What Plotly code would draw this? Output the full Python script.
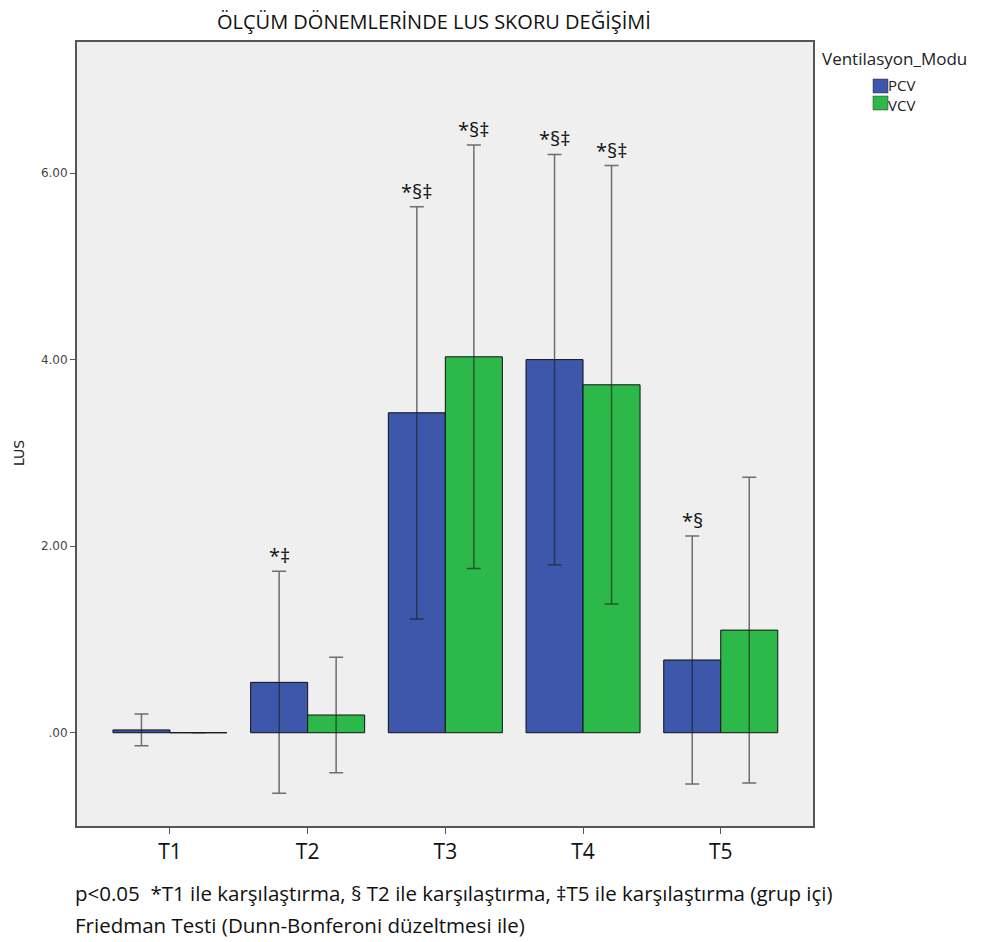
import plotly.graph_objects as go

categories = ["T1", "T2", "T3", "T4", "T5"]
series_names = ["PCV", "VCV"]
pcv_mean = [0.03, 0.54, 3.43, 4.00, 0.78]
pcv_err = [0.17, 1.19, 2.21, 2.20, 1.33]
vcv_mean = [0.00, 0.19, 4.03, 3.73, 1.10]
vcv_err = [0.00, 0.62, 2.27, 2.35, 1.64]
pcv_marks = ["", "*‡", "*§‡", "*§‡", "*§"]
vcv_marks = ["", "", "*§‡", "*§‡", ""]
y_ticks = [0, 2, 4, 6]
y_tick_labels = [".00", "2.00", "4.00", "6.00"]

title_text = "ÖLÇÜM DÖNEMLERİNDE LUS SKORU DEĞİŞİMİ"
legend_title = "Ventilasyon_Modu"
y_title = "LUS"
note1 = "p<0.05  *T1 ile karşılaştırma, § T2 ile karşılaştırma, ‡T5 ile karşılaştırma (grup içi)"
note2 = "Friedman Testi (Dunn-Bonferoni düzeltmesi ile)"

colors = {"PCV": "#3d57ab", "VCV": "#2db84a"}

OFF = 8  # page body margin
W, H = 983 - OFF, 942 - OFF
L, T = 77 - OFF, 42 - OFF
R = W - (813 - OFF)
B = H - (826 - OFF)
pw, ph = W - L - R, H - T - B

def px_x(x):
    return (x - OFF - L) / pw

def px_y(y):
    return (H - B - (y - OFF)) / ph

fig = go.Figure()
for name, means, errs in [("PCV", pcv_mean, pcv_err), ("VCV", vcv_mean, vcv_err)]:
    fig.add_trace(go.Bar(
        name=name, x=categories, y=means,
        marker=dict(color=colors[name], line=dict(color="#111111", width=1)),
        error_y=dict(type="data", array=errs, visible=True, color="rgba(30,30,30,0.62)",
                     thickness=1.5, width=7),
        showlegend=False,
    ))

# significance marks above error bars
x_span = 4.67 + 0.675
bar_half = 0.828 * (pw / x_span) / 4
for marks, means, errs, sh in [(pcv_marks, pcv_mean, pcv_err, -1), (vcv_marks, vcv_mean, vcv_err, 1)]:
    for c, m, mu, e in zip(categories, marks, means, errs):
        if m:
            fig.add_annotation(x=c, y=mu + e, xref="x", yref="y", text=m, showarrow=False,
                               xshift=sh * bar_half, yshift=0, yanchor="bottom",
                               font=dict(family="Open Sans", size=20, color="#111111"))

# title
fig.add_annotation(x=px_x(434), y=px_y(21), xref="paper", yref="paper", text=title_text,
                   showarrow=False, xanchor="center", yanchor="middle",
                   font=dict(family="Open Sans", size=20, color="#111111"))
# y title
fig.add_annotation(x=px_x(19), y=px_y(453), xref="paper", yref="paper", text=y_title,
                   showarrow=False, textangle=-90, xanchor="center", yanchor="middle",
                   font=dict(family="DejaVu Sans", size=14, color="#222222"))
# legend (manual)
fig.add_annotation(x=px_x(820), y=px_y(59), xref="paper", yref="paper", text=legend_title,
                   showarrow=False, xanchor="left", yanchor="middle",
                   font=dict(family="Open Sans", size=17, color="#222222"))
for i, name in enumerate(series_names):
    y0 = 79 + i * 17
    fig.add_shape(type="rect", xref="paper", yref="paper",
                  x0=px_x(873), x1=px_x(888), y0=px_y(y0), y1=px_y(y0 + 14),
                  fillcolor=colors[name], line=dict(color="#333333", width=0.5))
fig.add_annotation(x=px_x(887), y=px_y(95), xref="paper", yref="paper",
                   text="<br>".join(series_names), align="left",
                   showarrow=False, xanchor="left", yanchor="middle", borderpad=0,
                   font=dict(family="Open Sans", size=15, color="#222222"))
# notes
fig.add_annotation(x=px_x(73), y=px_y(893), xref="paper", yref="paper", text=note1,
                   showarrow=False, xanchor="left", yanchor="middle",
                   font=dict(family="Open Sans", size=20.5, color="#111111"))
fig.add_annotation(x=px_x(73), y=px_y(925), xref="paper", yref="paper", text=note2,
                   showarrow=False, xanchor="left", yanchor="middle",
                   font=dict(family="Open Sans", size=20.5, color="#111111"))

fig.update_layout(
    width=W, height=H,
    margin=dict(l=L, r=R, t=T, b=B, autoexpand=False),
    barmode="group", bargap=0.172, bargroupgap=0,
    paper_bgcolor="white", plot_bgcolor="#efefef",
    showlegend=False,
)
fig.update_xaxes(range=[-0.675, 4.67], showline=True, mirror=True, linecolor="#555555", linewidth=2,
                 ticks="outside", ticklen=6, tickcolor="#555555", showgrid=False,
                 tickfont=dict(family="Open Sans", size=21, color="#111111"))
fig.update_yaxes(range=[-1.0, 7.405], tickvals=y_ticks, ticktext=y_tick_labels,
                 showline=True, mirror=True, linecolor="#555555", linewidth=2,
                 ticks="outside", ticklen=5, tickcolor="#555555", showgrid=False, zeroline=False,
                 tickfont=dict(family="DejaVu Sans", size=12, color="#444444"))

fig.write_html("out.html")
